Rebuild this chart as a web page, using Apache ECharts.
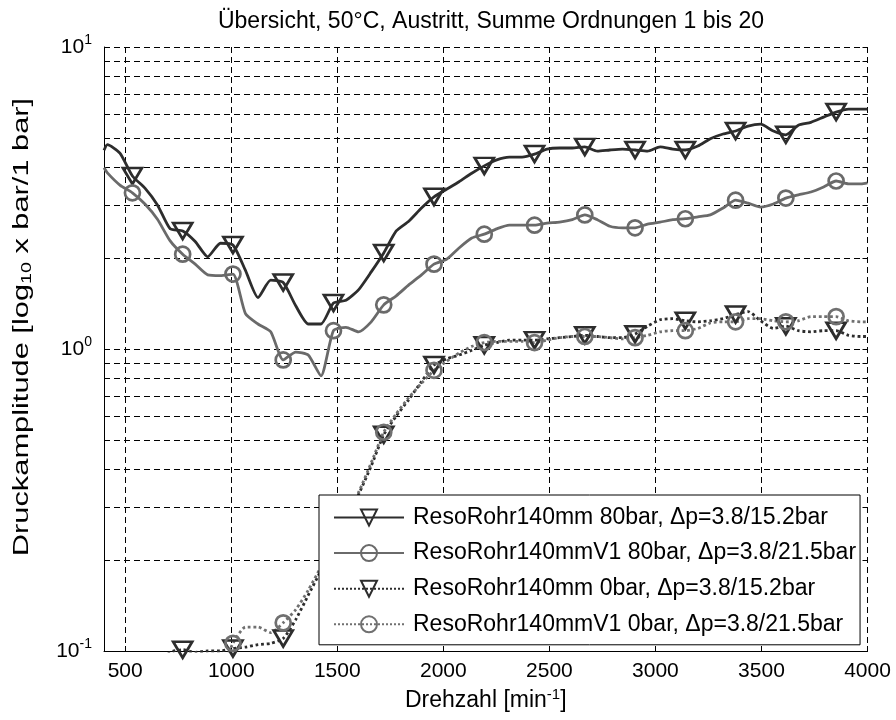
<!DOCTYPE html>
<html>
<head>
<meta charset="utf-8">
<script src="https://cdn.jsdelivr.net/npm/echarts@6/dist/echarts.min.js"></script>
<style>
html,body{margin:0;padding:0;background:#fff;}
#c{width:896px;height:720px;}
</style>
</head>
<body>
<div id="c"></div>
<script>
const titleText = 'Übersicht, 50°C, Austritt, Summe Ordnungen 1 bis 20';
const xAxisTitle = 'Drehzahl [min{sup|-1}]';
const yAxisTitle = 'Druckamplitude [log{sub|10} x bar/1 bar]';
const seriesNames = [
  'ResoRohr140mm 80bar, Δp=3.8/15.2bar',
  'ResoRohr140mmV1 80bar, Δp=3.8/21.5bar',
  'ResoRohr140mm 0bar, Δp=3.8/15.2bar',
  'ResoRohr140mmV1 0bar, Δp=3.8/21.5bar'
];
const xTicks = [500, 1000, 1500, 2000, 2500, 3000, 3500, 4000];
const yLabelTicks = [0.1, 1, 10];
const yMinorTicks = [0.1,0.2,0.3,0.4,0.5,0.6,0.7,0.8,0.9,1,2,3,4,5,6,7,8,9,10];

const rpm = [400,416,475,534,593,652,712,771,830,889,949,1008,1067,1126,1186,1245,1304,1363,1423,1482,
  1541,1600,1660,1719,1778,1837,1897,1956,2015,2074,2134,2193,2252,2311,2371,2430,2489,2548,2608,2667,
  2726,2785,2845,2904,2963,3022,3082,3141,3200,3259,3319,3378,3437,3496,3556,3615,3674,3733,3793,3852,
  3911,3970,4000];

const s1 = [4.55,4.75,4.45,3.74,3.41,3.00,2.50,2.46,2.27,2.02,2.24,2.21,1.82,1.48,1.69,1.66,1.39,1.21,1.21,1.42,
  1.45,1.57,1.80,2.08,2.46,2.65,2.93,3.19,3.38,3.58,3.82,4.04,4.23,4.32,4.32,4.42,4.59,4.63,4.63,4.67,
  4.52,4.56,4.59,4.56,4.52,4.67,4.59,4.56,4.70,4.97,5.15,5.27,5.47,5.55,5.27,5.12,5.51,5.63,5.86,6.09,
  6.23,6.23,6.23];
const s2 = [3.98,3.83,3.49,3.29,3.02,2.69,2.28,2.06,1.91,1.76,1.75,1.77,1.31,1.21,1.14,0.92,0.977,0.955,0.815,1.15,
  1.18,1.14,1.23,1.40,1.50,1.63,1.76,1.91,1.98,2.16,2.33,2.40,2.50,2.57,2.57,2.57,2.61,2.63,2.68,2.78,
  2.68,2.55,2.52,2.52,2.59,2.63,2.68,2.70,2.74,2.78,2.93,3.11,3.04,2.95,3.02,3.16,3.24,3.31,3.44,3.60,
  3.52,3.52,3.55];
const s3 = [0.08,0.08,0.08,0.08,0.085,0.09,0.099,0.101,0.099,0.1,0.1,0.102,0.103,0.105,0.106,0.11,0.127,0.153,0.185,0.228,
  0.282,0.33,0.41,0.52,0.60,0.68,0.78,0.885,0.927,0.955,0.99,1.03,1.05,1.07,1.07,1.07,1.08,1.09,1.10,1.11,
  1.10,1.09,1.09,1.12,1.19,1.25,1.26,1.24,1.23,1.24,1.26,1.30,1.33,1.24,1.17,1.19,1.15,1.14,1.15,1.15,
  1.11,1.10,1.10];
const s4 = [0.08,0.08,0.08,0.08,0.08,0.08,0.08,0.08,0.08,0.08,0.085,0.106,0.12,0.12,0.115,0.124,0.137,0.159,0.19,0.232,
  0.285,0.335,0.42,0.53,0.61,0.69,0.77,0.85,0.91,0.97,1.02,1.05,1.06,1.06,1.06,1.05,1.07,1.09,1.10,1.10,
  1.10,1.09,1.08,1.09,1.11,1.14,1.15,1.15,1.17,1.22,1.23,1.23,1.26,1.26,1.24,1.23,1.24,1.28,1.28,1.28,
  1.24,1.23,1.23];

const FONT = "'Liberation Sans', Arial, Helvetica, sans-serif";
const TRI = 'path://M0 0 L20 0 L10 17 Z';
const C_DARK = '#2d2d2d', C_GRAY = '#6a6a6a', C_GRAY2 = '#707070';

function build(vals, sym) {
  return rpm.map((x, i) => ({ value: [x, vals[i]], symbol: (i % 4 === 3) ? sym : 'none' }));
}
function mkSeries(name, vals, sym, size, color, type) {
  return {
    name: name, type: 'line', data: build(vals, sym),
    symbol: sym, symbolSize: size, showSymbol: true, showAllSymbol: true,
    smooth: 0.2, clip: true,
    lineStyle: { color: color, width: 2.8, type: type },
    itemStyle: { color: 'none', borderColor: color, borderWidth: 2.7 },
    emphasis: { disabled: true }
  };
}

const chart = echarts.init(document.getElementById('c'), null, { renderer: 'canvas' });
const dash = [6, 4];
chart.setOption({
  animation: false,
  backgroundColor: '#fff',
  textStyle: { fontFamily: FONT },
  title: {
    text: titleText, left: 486, top: 5, textAlign: 'center',
    textStyle: { fontFamily: FONT, fontSize: 23, fontWeight: 'normal', color: '#000' }
  },
  grid: { left: 104, right: 28.5, top: 47, bottom: 69 },
  graphic: [{
    type: 'text', x: 22, y: 327, rotation: Math.PI / 2, scaleX: 1.4, silent: true,
    style: {
      text: yAxisTitle, fontFamily: FONT, fontSize: 22, fill: '#000',
      align: 'center', verticalAlign: 'middle',
      rich: { sub: { fontFamily: FONT, fontSize: 14, fill: '#000', padding: [11, 0, 0, 0] } }
    }
  }],
  legend: {
    orient: 'vertical', left: 319, top: 495,
    itemWidth: 70, itemHeight: 20, itemGap: 12.6,
    padding: [11, 4, 9, 14],
    backgroundColor: '#fff', borderColor: '#000', borderWidth: 1,
    selectedMode: false,
    textStyle: { fontFamily: FONT, fontSize: 23, color: '#000', lineHeight: 20, padding: [0, 0, 0, 4] },
    data: seriesNames
  },
  xAxis: [{
    type: 'value', min: 400, max: 4000, position: 'bottom',
    name: xAxisTitle, nameLocation: 'middle', nameGap: 35,
    nameTextStyle: { fontFamily: FONT, fontSize: 23, color: '#000',
      rich: { sup: { fontFamily: FONT, fontSize: 15, color: '#000', padding: [0, 0, 13, 0] } } },
    axisLine: { show: true, onZero: false, lineStyle: { color: '#000', width: 1 } },
    axisTick: { show: true, inside: true, length: 5, customValues: xTicks, lineStyle: { color: '#000' } },
    axisLabel: { show: true, customValues: xTicks, margin: 10, fontFamily: FONT, fontSize: 21, color: '#000',
      formatter: function (v) { return String(v); } },
    splitLine: { show: true, lineStyle: { color: '#000', width: 1, type: dash } }
  }, {
    type: 'value', min: 400, max: 4000, position: 'top',
    axisLine: { show: false },
    axisTick: { show: true, inside: true, length: 5, customValues: xTicks, lineStyle: { color: '#000' } },
    axisLabel: { show: false },
    splitLine: { show: false }
  }],
  yAxis: [{
    type: 'log', logBase: 10, min: 0.1, max: 10, position: 'left',
    axisLine: { show: true, onZero: false, lineStyle: { color: '#000', width: 1 } },
    axisTick: { show: true, inside: true, length: 5, customValues: yMinorTicks, lineStyle: { color: '#000' } },
    axisLabel: {
      show: true, customValues: yLabelTicks, margin: 12, fontFamily: FONT, fontSize: 21, color: '#000',
      formatter: function (v) { return '10{sup|' + Math.round(Math.log10(v)) + '}'; },
      rich: { sup: { fontFamily: FONT, fontSize: 14, color: '#000', padding: [0, 0, 14, 0] } }
    },
    splitLine: { show: true, lineStyle: { color: '#000', width: 1, type: dash } }
  }, {
    type: 'log', logBase: 10, min: 0.1, max: 10, position: 'right',
    axisLine: { show: false },
    axisTick: { show: true, inside: true, length: 5, customValues: yMinorTicks, lineStyle: { color: '#000' } },
    axisLabel: { show: false },
    splitLine: { show: false }
  }],
  series: [
    mkSeries(seriesNames[0], s1, TRI, [19, 16], C_DARK, 'solid'),
    mkSeries(seriesNames[1], s2, 'circle', 15, C_GRAY, 'solid'),
    mkSeries(seriesNames[2], s3, TRI, [19, 16], C_DARK, 'dotted'),
    mkSeries(seriesNames[3], s4, 'circle', 15, C_GRAY2, 'dotted')
  ]
});
</script>
</body>
</html>
